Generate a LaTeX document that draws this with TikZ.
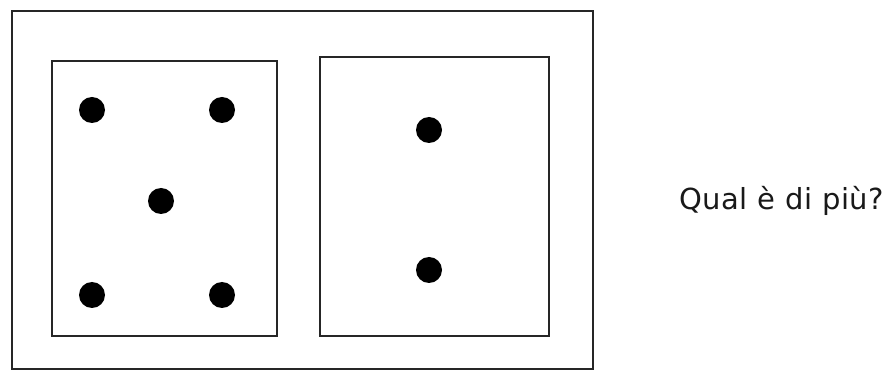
\documentclass[tikz,border=0pt]{standalone}
\usepackage{fontspec}
\setmainfont{DejaVu Sans}[LetterSpace=2]
\begin{document}
\begin{tikzpicture}[x=1pt,y=-1pt,
  frame/.style={draw=black!85, line width=1.6pt},
  dot/.style={circle, fill=black, inner sep=0pt, minimum size=26pt},
  label/.style={font=\fontsize{29}{34}\selectfont, text=black!90, anchor=base west, inner sep=0pt}]
\useasboundingbox (0,0) rectangle (895,371);
\draw[frame] (12,11) rectangle (593,369);
\draw[frame] (52,61) rectangle (277,336);
\draw[frame] (320,57) rectangle (549,336);
\node[dot] (d1) at (92,110) {};
\node[dot] (d2) at (222,110) {};
\node[dot] (d3) at (161,201) {};
\node[dot] (d4) at (92,295) {};
\node[dot] (d5) at (222,295) {};
\node[dot] (e1) at (429,130) {};
\node[dot] (e2) at (429,270) {};
\node[label] (q) at (679,210) {Qual è di più?};
\end{tikzpicture}
\end{document}
